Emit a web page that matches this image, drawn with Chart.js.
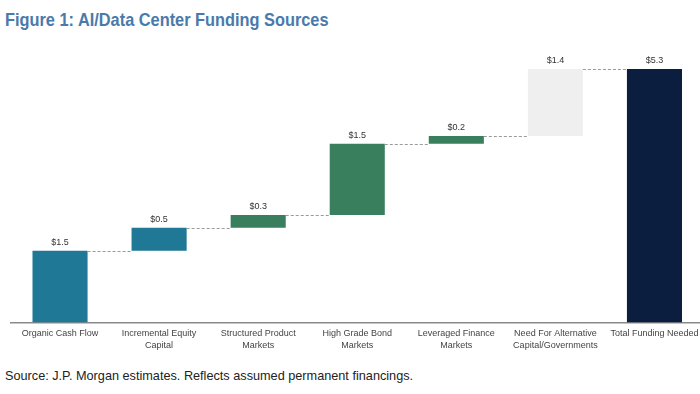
<!DOCTYPE html>
<html><head><meta charset="utf-8">
<script src="https://cdn.jsdelivr.net/npm/chart.js@4/dist/chart.umd.min.js"></script>
<style>
html,body{margin:0;padding:0;background:#fff;overflow:hidden;width:700px;height:394px;}
#title{position:absolute;left:5px;top:9px;font-family:"Liberation Sans",Arial,sans-serif;font-weight:bold;font-size:19px;color:#4a7aab;white-space:nowrap;transform:scaleX(0.86);transform-origin:0 0;}
#src{position:absolute;left:5px;top:369px;font-family:"Liberation Sans",Arial,sans-serif;font-size:12.7px;color:#222;white-space:nowrap;}
#wrap{position:absolute;left:0;top:41px;width:704px;height:315px;}
</style></head>
<body>
<div id="title">Figure 1: AI/Data Center Funding Sources</div>
<div id="wrap"><canvas id="c"></canvas></div>
<div id="src">Source: J.P. Morgan estimates. Reflects assumed permanent financings.</div>
<script>
const categories = [
  "Organic Cash Flow",
  ["Incremental Equity","Capital"],
  ["Structured Product","Markets"],
  ["High Grade Bond","Markets"],
  ["Leveraged Finance","Markets"],
  ["Need For Alternative","Capital/Governments"],
  "Total Funding Needed"
];
const increments = [1.5, 0.48, 0.27, 1.49, 0.16, 1.4];
const totalValue = 5.3;
const valueLabels = ["$1.5","$0.5","$0.3","$1.5","$0.2","$1.4","$5.3"];
const barColors = ["#1f7896","#1f7896","#3a7f5d","#3a7f5d","#3a7f5d","#efefef","#0b1e3f"];

const ranges = [];
let run = 0;
increments.forEach(v => { ranges.push([run, run + v]); run += v; });
ranges.push([0, totalValue]);

const overlay = {
  id: 'overlay',
  afterDatasetsDraw(chart) {
    const ctx = chart.ctx;
    const meta = chart.getDatasetMeta(0);
    const y = chart.scales.y;
    ctx.save();
    ctx.strokeStyle = '#9a9a9a';
    ctx.lineWidth = 1;
    ctx.setLineDash([3,2]);
    for (let i = 0; i < meta.data.length - 1; i++) {
      const a = meta.data[i], b = meta.data[i+1];
      const py = Math.round(y.getPixelForValue(ranges[i][1])) + 0.5;
      ctx.beginPath();
      ctx.moveTo(a.x + a.width/2, py);
      ctx.lineTo(b.x - b.width/2, py);
      ctx.stroke();
    }
    ctx.setLineDash([]);
    ctx.fillStyle = '#333';
    ctx.font = '9px "Liberation Sans", Arial, sans-serif';
    ctx.textAlign = 'center';
    ctx.textBaseline = 'bottom';
    meta.data.forEach((el, i) => {
      const top = y.getPixelForValue(ranges[i][1]);
      ctx.fillText(valueLabels[i], el.x, top - 4);
    });
    ctx.restore();
  }
};

new Chart(document.getElementById('c'), {
  type: 'bar',
  data: {
    labels: categories,
    datasets: [{
      data: ranges,
      backgroundColor: barColors,
      borderWidth: 0,
      barPercentage: 0.556,
      categoryPercentage: 1
    }]
  },
  options: {
    responsive: true,
    maintainAspectRatio: false,
    animation: false,
    layout: { padding: { left: 10.5, right: 0, top: 28, bottom: 0 } },
    plugins: { legend: { display: false }, tooltip: { enabled: false } },
    scales: {
      x: {
        grid: { display: false, drawTicks: false },
        border: { display: true, color: '#8a8a8a', width: 1.5 },
        ticks: {
          color: '#444',
          font: { family: '"Liberation Sans", Arial, sans-serif', size: 9, lineHeight: 1.3 },
          maxRotation: 0, autoSkip: false, padding: 5
        }
      },
      y: { display: false, min: 0, max: 5.3 }
    }
  },
  plugins: [overlay]
});
</script>
</body></html>
